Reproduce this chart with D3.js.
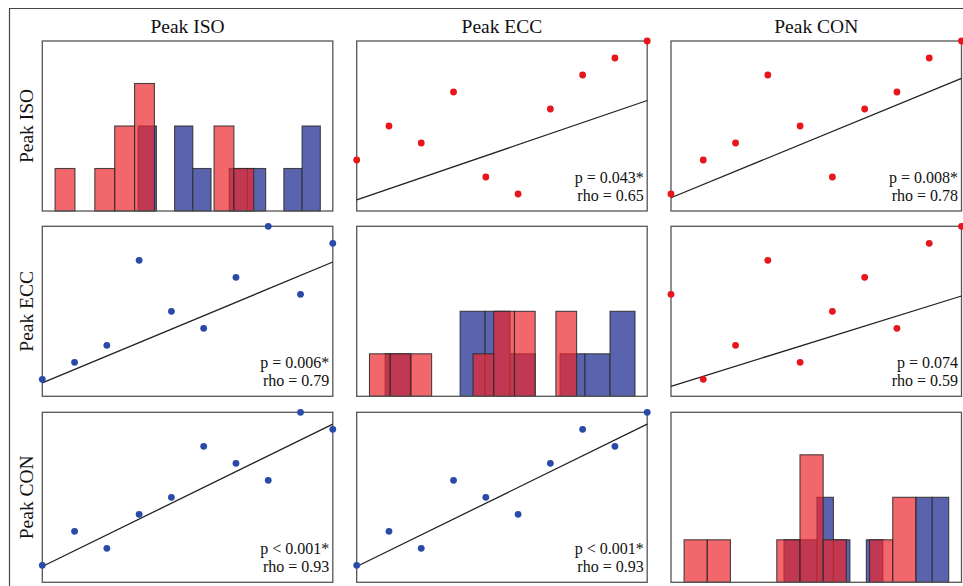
<!DOCTYPE html>
<html>
<head>
<meta charset="utf-8">
<script src="https://cdn.jsdelivr.net/npm/d3@7"></script>
<style>
  body { margin: 0; background: #fff; }
  svg { display: block; font-family: "Liberation Serif", "Times New Roman", serif; }
</style>
</head>
<body>
<div id="chart"></div>
<script>
// variable names (columns / rows)
var variables = ["Peak ISO", "Peak ECC", "Peak CON"];

// red group (upper panels), ranks per subject
var redISO = [1, 3, 4, 8, 5, 2, 6, 7, 9, 10];
var redECC = [6, 1, 3, 8, 2, 5, 7, 4, 9, 10];
var redCON = [1, 2, 3, 4, 5, 6, 7, 8, 9, 10];

// blue group (lower panels), ranks as plotted in each panel
var blueISOx = [1, 2, 3, 4, 5, 6, 7, 8, 9, 10];
var blueECCvsISO = [1, 2, 3, 8, 5, 4, 7, 10, 6, 9];
var blueCONvsISO = [1, 3, 2, 4, 5, 8, 7, 6, 10, 9];
var blueECCx = [1, 2, 3, 4, 5, 6, 7, 8, 9, 10];
var blueCONvsECC = [1, 3, 2, 6, 5, 4, 7, 9, 8, 10];

// spearman stats per panel
var pLabels = {"0-1": "p = 0.043*", "0-2": "p = 0.008*", "1-2": "p = 0.074",
               "1-0": "p = 0.006*", "2-0": "p < 0.001*", "2-1": "p < 0.001*"};
var rhoValues = {"0-1": 0.65, "0-2": 0.78, "1-2": 0.59,
                 "1-0": 0.79, "2-0": 0.93, "2-1": 0.93};

// histogram counts (10 bins per group) and bin start / width (0-100 value axis)
var isoRedCounts  = [1, 0, 1, 2, 3, 0, 0, 0, 2, 1];
var isoBlueCounts = [2, 0, 2, 1, 0, 1, 1, 0, 1, 2];
var eccRedCounts  = [1, 1, 1, 0, 0, 1, 2, 2, 0, 2];
var eccBlueCounts = [1, 0, 0, 2, 2, 1, 0, 1, 1, 2];
var conRedCounts  = [1, 1, 0, 0, 1, 3, 1, 0, 1, 2];
var conBlueCounts = [1, 1, 2, 1, 0, 1, 0, 0, 2, 2];
var redBinStart  = [4.4, 4.4, 4.5];
var redBinWidth  = [6.84, 7.13, 7.98];
var blueBinStart = [33.0, 9.8, 38.9];
var blueBinWidth = [6.27, 8.6, 5.67];

var redCounts = [isoRedCounts, eccRedCounts, conRedCounts];
var blueCounts = [isoBlueCounts, eccBlueCounts, conBlueCounts];

var scatterData = {
  "0-1": {x: redECC, y: redISO, color: "#e8161c"},
  "0-2": {x: redCON, y: redISO, color: "#e8161c"},
  "1-2": {x: redCON, y: redECC, color: "#e8161c"},
  "1-0": {x: blueISOx, y: blueECCvsISO, color: "#2a4aa8"},
  "2-0": {x: blueISOx, y: blueCONvsISO, color: "#2a4aa8"},
  "2-1": {x: blueECCx, y: blueCONvsECC, color: "#2a4aa8"}
};

var width = 963, height = 586;
var colX = [42.3, 356.7, 671],
    rowY = [41, 226.3, 412.3],
    pw = 290.5, ph = 170;

var svg = d3.select("#chart").append("svg")
  .attr("width", width)
  .attr("height", height);

// outer frame (top + left edge)
svg.append("path")
  .attr("d", "M9.5," + height + "V8.5H" + width)
  .attr("fill", "none")
  .attr("stroke", "#444")
  .attr("stroke-width", 1.2);

// column titles
svg.selectAll(".coltitle")
  .data(variables)
  .enter().append("text")
    .attr("x", function(d, i) { return colX[i] + pw / 2; })
    .attr("y", 33)
    .attr("text-anchor", "middle")
    .style("font-size", "19.5px")
    .style("fill", "#111")
    .text(function(d) { return d; });

// row titles
svg.selectAll(".rowtitle")
  .data(variables)
  .enter().append("text")
    .attr("transform", function(d, i) { return "translate(33," + (rowY[i] + ph / 2) + ") rotate(-90)"; })
    .attr("text-anchor", "middle")
    .style("font-size", "19.5px")
    .style("fill", "#111")
    .text(function(d) { return d; });

for (var r = 0; r < 3; r++) {
  for (var c = 0; c < 3; c++) {
    var g = svg.append("g")
      .attr("transform", "translate(" + colX[c] + "," + rowY[r] + ")");
    var key = r + "-" + c;

    if (r == c) {
      // histogram panel
      var hx = d3.scaleLinear().domain([0, 100]).range([0, pw]);
      var hy = d3.scaleLinear().domain([0, 4]).range([ph, 0]);

      var groups = [
        {counts: blueCounts[r], start: blueBinStart[r], w: blueBinWidth[r], fill: "#5a63ad", op: 1},
        {counts: redCounts[r], start: redBinStart[r], w: redBinWidth[r], fill: "rgb(236,38,44)", op: 0.7}
      ];
      groups.forEach(function(grp) {
        var bins = grp.counts.map(function(n, i) {
          return {x0: grp.start + i * grp.w, x1: grp.start + (i + 1) * grp.w, n: n};
        }).filter(function(b) { return b.n > 0; });
        g.selectAll(null)
          .data(bins)
          .enter().append("rect")
            .attr("x", function(d) { return hx(d.x0); })
            .attr("y", function(d) { return hy(d.n); })
            .attr("width", function(d) { return hx(d.x1) - hx(d.x0); })
            .attr("height", function(d) { return hy(0) - hy(d.n); })
            .attr("fill", grp.fill)
            .attr("fill-opacity", grp.op)
            .attr("stroke", "#2a2a2a")
            .attr("stroke-opacity", 0.85)
            .attr("stroke-width", 1.1);
      });
    }

    // panel border
    g.append("rect")
      .attr("width", pw)
      .attr("height", ph)
      .attr("fill", "none")
      .attr("stroke", "#555")
      .attr("stroke-width", 1.3);

    if (r != c) {
      var sd = scatterData[key];
      var x = d3.scaleLinear().domain([1, 10]).range([0, pw]);
      var y = d3.scaleLinear().domain([0, 10]).range([ph, 0]);
      var rho = rhoValues[key];

      g.append("line")
        .attr("x1", x(1)).attr("y1", y(rho * 1))
        .attr("x2", x(10)).attr("y2", y(rho * 10))
        .attr("stroke", "#222")
        .attr("stroke-width", 1.3);

      g.selectAll("circle")
        .data(d3.range(sd.x.length))
        .enter().append("circle")
          .attr("cx", function(i) { return x(sd.x[i]); })
          .attr("cy", function(i) { return y(sd.y[i]); })
          .attr("r", 3.4)
          .attr("fill", sd.color);

      g.append("text")
        .attr("x", pw - 3.5)
        .attr("y", ph - 27.8)
        .attr("text-anchor", "end")
        .style("font-size", "16px")
        .style("fill", "#111")
        .text(pLabels[key]);
      g.append("text")
        .attr("x", pw - 3.5)
        .attr("y", ph - 10)
        .attr("text-anchor", "end")
        .style("font-size", "16px")
        .style("fill", "#111")
        .text("rho = " + rho.toFixed(2));
    }
  }
}
</script>
</body>
</html>
